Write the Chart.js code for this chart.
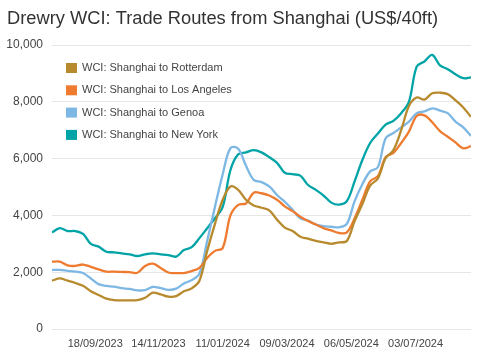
<!DOCTYPE html>
<html>
<head>
<meta charset="utf-8">
<script src="https://cdn.jsdelivr.net/npm/chart.js@4"></script>
<style>
  html, body { margin: 0; padding: 0; background: #ffffff; }
  #wrap { width: 480px; height: 358px; position: relative; }
</style>
</head>
<body>
<div id="wrap"><canvas id="c" width="480" height="358"></canvas></div>
<script>
const chartTitle = 'Drewry WCI: Trade Routes from Shanghai (US$/40ft)';

const weeks = [
  '2023-08-10','2023-08-17','2023-08-24','2023-08-31','2023-09-07','2023-09-14','2023-09-21','2023-09-28',
  '2023-10-05','2023-10-12','2023-10-19','2023-10-26','2023-11-02','2023-11-09','2023-11-16','2023-11-23',
  '2023-11-30','2023-12-07','2023-12-14','2023-12-21','2023-12-28','2024-01-04','2024-01-11','2024-01-18',
  '2024-01-25','2024-02-01','2024-02-08','2024-02-15','2024-02-22','2024-02-29','2024-03-07','2024-03-14',
  '2024-03-21','2024-03-28','2024-04-04','2024-04-11','2024-04-18','2024-04-25','2024-05-02','2024-05-09',
  '2024-05-16','2024-05-23','2024-05-30','2024-06-06','2024-06-13','2024-06-20','2024-06-27','2024-07-04',
  '2024-07-11','2024-07-18','2024-07-25','2024-08-01','2024-08-08','2024-08-15','2024-08-22'
];

const seriesNames = [
  'WCI: Shanghai to Rotterdam',
  'WCI: Shanghai to Los Angeles',
  'WCI: Shanghai to Genoa',
  'WCI: Shanghai to New York'
];

const rotterdam = [1700,1780,1700,1620,1520,1330,1200,1070,1020,1010,1010,1020,1100,1280,1220,1140,1160,1330,1430,1700,2750,3700,4550,5020,4900,4550,4350,4270,4180,3850,3570,3450,3250,3180,3100,3050,3000,3050,3100,3800,4400,5050,5300,6020,6300,7000,7850,8150,8080,8300,8320,8270,8050,7800,7470];
const losAngeles = [2370,2370,2240,2220,2270,2190,2100,2020,2020,2010,2000,1980,2220,2300,2150,1990,1970,1970,2040,2150,2500,2750,2850,4000,4370,4420,4800,4780,4700,4550,4320,4150,3950,3800,3680,3550,3470,3380,3400,3900,4550,5200,5380,6050,6200,6550,6950,7500,7520,7280,6970,6770,6570,6360,6440];
const genoa = [2080,2080,2050,2020,1970,1780,1580,1520,1490,1440,1410,1360,1370,1480,1440,1380,1420,1600,1720,1950,3100,4300,5450,6370,6350,5750,5250,5170,5020,4720,4480,4200,3900,3820,3680,3620,3600,3580,3700,4500,5100,5550,5700,6720,6900,7100,7300,7600,7660,7770,7690,7600,7300,7100,6800];
const newYork = [3400,3550,3450,3450,3350,3000,2900,2720,2700,2660,2630,2570,2630,2660,2630,2600,2550,2780,2880,3200,3550,3900,4300,5600,6150,6220,6300,6220,6050,5850,5500,5450,5400,5070,4900,4700,4450,4380,4500,5200,5950,6550,6880,7200,7330,7600,8000,9240,9420,9650,9280,9150,8970,8830,8860];

const tickDates = ['2023-09-18','2023-11-14','2024-01-11','2024-03-09','2024-05-06','2024-07-03'];
const yTicks = [0, 2000, 4000, 6000, 8000, 10000];

const colors = ['#B88A2E', '#EE7B30', '#7DB7E4', '#00A4A6'];

const DAY = 86400000;
function toDay(s) {
  const p = s.split('-').map(Number);
  return Date.UTC(p[0], p[1] - 1, p[2]) / DAY;
}
const day0 = toDay(weeks[0]);
function rel(s) { return toDay(s) - day0; }
function fmt(s) { const p = s.split('-'); return p[2] + '/' + p[1] + '/' + p[0]; }

const allSeries = [rotterdam, losAngeles, genoa, newYork];
const datasets = allSeries.map((vals, k) => ({
  label: seriesNames[k],
  data: vals.map((v, i) => ({ x: rel(weeks[i]), y: v })),
  borderColor: colors[k],
  backgroundColor: colors[k],
  borderWidth: 2.3,
  pointRadius: 0,
  tension: 0.35,
  fill: false
}));

const FONT = '"Liberation Sans", Arial, sans-serif';

const titlePlugin = {
  id: 'titleText',
  afterDraw(chart) {
    const ctx = chart.ctx;
    ctx.save();
    ctx.font = '18.3px ' + FONT;
    ctx.fillStyle = '#333333';
    ctx.textBaseline = 'alphabetic';
    ctx.textAlign = 'left';
    ctx.fillText(chartTitle, 7, 24);
    ctx.restore();
  }
};

const legendPlugin = {
  id: 'insideLegend',
  afterDatasetsDraw(chart) {
    const ctx = chart.ctx;
    ctx.save();
    ctx.font = '11px ' + FONT;
    ctx.textBaseline = 'middle';
    ctx.textAlign = 'left';
    chart.data.datasets.forEach((ds, i) => {
      const cy = 68 + i * 22.3;
      ctx.fillStyle = ds.borderColor;
      ctx.fillRect(66, cy - 5, 11, 10);
      ctx.fillStyle = '#444444';
      ctx.fillText(ds.label, 82, cy);
    });
    ctx.restore();
  }
};

new Chart(document.getElementById('c'), {
  type: 'line',
  data: { datasets },
  options: {
    responsive: false,
    animation: false,
    layout: { padding: { top: 45, right: 9, left: 0, bottom: 0 } },
    plugins: {
      legend: { display: false },
      title: { display: false },
      tooltip: { enabled: false }
    },
    scales: {
      x: {
        type: 'linear',
        min: 0,
        max: rel(weeks[weeks.length - 1]),
        grid: { display: false, drawTicks: false },
        border: { display: false },
        afterBuildTicks(scale) {
          scale.ticks = tickDates.map(d => ({ value: rel(d) }));
        },
        afterFit(scale) { scale.height = 29; },
        ticks: {
          autoSkip: false,
          maxRotation: 0,
          padding: 8,
          color: '#444444',
          font: { size: 11, family: FONT },
          callback(value) {
            const i = tickDates.findIndex(d => rel(d) === value);
            return i >= 0 ? fmt(tickDates[i]) : '';
          }
        }
      },
      y: {
        min: 0,
        max: 10000,
        afterBuildTicks(scale) {
          scale.ticks = yTicks.map(v => ({ value: v }));
        },
        afterFit(scale) { scale.width = 52; },
        grid: { color: '#e6e6e6', lineWidth: 1, drawTicks: false },
        border: { display: false },
        ticks: {
          padding: 9,
          color: '#444444',
          font: { size: 12, family: FONT },
          callback(v) { return Number(v).toLocaleString('en-US'); }
        }
      }
    }
  },
  plugins: [titlePlugin, legendPlugin]
});
</script>
</body>
</html>
